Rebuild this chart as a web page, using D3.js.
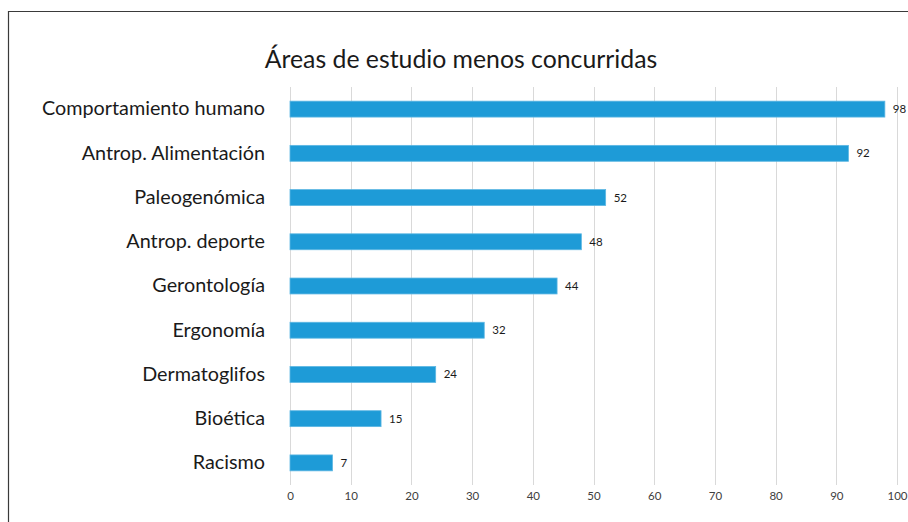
<!DOCTYPE html>
<html><head><meta charset="utf-8">
<script src="https://cdn.jsdelivr.net/npm/d3@7"></script>
<style>html,body{margin:0;padding:0;background:#fff;}svg{display:block;}</style>
</head><body>
<script>
const categories = ["Comportamiento humano","Antrop. Alimentación","Paleogenómica","Antrop. deporte","Gerontología","Ergonomía","Dermatoglifos","Bioética","Racismo"];
const values = [98,92,52,48,44,32,24,15,7];
const tickValues = [0,10,20,30,40,50,60,70,80,90,100];
const title = "Áreas de estudio menos concurridas";

const W=908,H=522;
const svg=d3.select("body").append("svg").attr("width",W).attr("height",H);
const font="Lato, 'Open Sans', sans-serif";
// frame
svg.append("path").attr("d",`M8.5,${H} V11.5 H${W}`).attr("fill","none").attr("stroke","#3a3a3a").attr("stroke-width",1.2);

const x=d3.scaleLinear().domain([0,100]).range([290,897]);
const y=d3.scaleBand().domain(categories).range([87,485]).paddingInner(0.64).paddingOuter(0.32);

// gridlines
svg.append("g").selectAll("line").data(tickValues).join("line")
  .attr("x1",d=>Math.round(x(d))+0.5).attr("x2",d=>Math.round(x(d))+0.5)
  .attr("y1",87).attr("y2",485).attr("stroke","#d9d9d9").attr("stroke-width",1);

// x axis labels
const ax=svg.append("g").attr("transform","translate(0,485)")
  .call(d3.axisBottom(x).tickValues(tickValues).tickSize(0).tickPadding(7));
ax.select(".domain").remove();
ax.selectAll("text").attr("font-family",font).attr("font-size",11.5).attr("fill","#404040");

// y axis labels
const ay=svg.append("g").attr("transform","translate(265,0)")
  .call(d3.axisLeft(y).tickSize(0).tickPadding(0));
ay.select(".domain").remove();
ay.selectAll("text").attr("font-family",font).attr("font-size",19.8).attr("fill","#1a1a1a");

// bars
svg.append("g").selectAll("rect").data(values).join("rect")
  .attr("x",x(0)).attr("y",(d,i)=>y(categories[i]))
  .attr("width",d=>x(d)-x(0)).attr("height",y.bandwidth())
  .attr("fill","#1e9bd7").attr("stroke","#5db7e3").attr("stroke-width",0.8);

// value labels
svg.append("g").selectAll("text").data(values).join("text")
  .attr("x",d=>x(d)+8).attr("y",(d,i)=>y(categories[i])+y.bandwidth()/2)
  .attr("dy","0.35em").attr("font-family",font).attr("font-size",11.5).attr("fill","#1a1a1a")
  .text(d=>d);

// title
svg.append("text").attr("x",461).attr("y",68).attr("text-anchor","middle")
  .attr("font-family",font).attr("font-size",24.8).attr("fill","#1a1a1a").text(title);
</script>
</body></html>
